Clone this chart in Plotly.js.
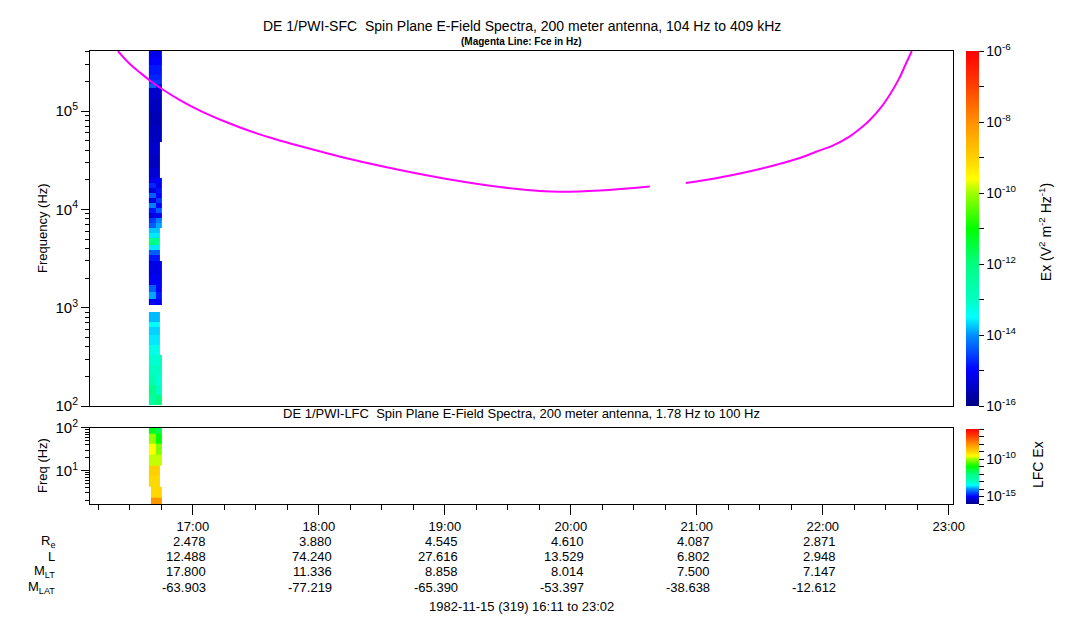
<!DOCTYPE html>
<html><head><meta charset="utf-8">
<script src="https://cdn.plot.ly/plotly-3.0.1.min.js"></script>
<style>html,body{margin:0;padding:0;background:#fff;}#chart{width:1083px;height:620px;}</style>
</head><body><div id="chart"></div>
<script>
const DAY = '1982-11-15 ';

// ---- SFC spectrogram (top panel) ----
const sfcTimeEdges = ['16:39:03', '16:42:14', '16:44:17', '16:45:23'];
// frequency bin edges, top -> bottom (Hz)
const sfcFreqEdgesHz = [409000, 344000, 294000, 233000, 207000, 187000, 170500, 135000, 98700, 72200,
  48900, 35800, 26200, 20700, 18400, 16400, 14600, 13000, 11500, 10300,
  9120, 8110, 7210, 6420, 5710, 5160, 4700, 4350, 3860, 3440,
  2990, 2150, 1700, 1460, 1240, 1065, 912, 721, 641, 528,
  418, 330, 261, 207, 164, 129, 102];
// log10(Ex) per time column, rows top -> bottom
const sfcLogExA = [-15.15, -15.0, -14.85, -14.75, -14.6, -14.35, -15.4, -15.5, -15.6, -15.5,
  -15.4, -15.5, -15.35, -15.2, -14.75, -15.3, -14.35, -15.2, -14.1, -14.85,
  -15.3, -14.6, -14.35, -13.75, -13.6, -12.2, -11.9, -13.6, -14.35, -14.85,
  -15.2, -15.1, -14.35, -13.9, -15.05, null, -13.8, -13.5, -13.7, -13.6,
  -13.3, -13.15, -13.0, -12.8, -12.2, -12.5];
const sfcLogExB = [-15.15, -15.0, -14.85, -14.75, -14.6, -14.85, -15.4, -15.5, -15.6, -15.5,
  -15.4, -15.5, -15.35, -15.0, -15.2, -14.9, -15.0, -14.6, -15.0, -14.35,
  -15.05, -14.1, -13.9, -13.75, -13.6, -12.2, -12.5, -13.6, -14.35, -14.85,
  -15.2, -15.1, -15.0, -14.85, -15.05, null, -13.8, -13.5, -13.7, -13.6,
  -13.3, -13.15, -13.0, -13.15, -13.0, -12.0];
const sfcLogExC = [-15.15, -15.0, -14.85, -14.75, -14.7, -15.3, -15.4, -15.5, -15.6, -15.5,
  null, null, null, -15.0, -15.05, -14.85, -15.0, -14.6, -15.0, -14.35,
  -15.05, -14.1, -13.9, null, null, null, null, null, null, null,
  -15.2, -15.1, -15.0, -14.85, -15.05, null, null, null, null, null,
  null, -12.8, -13.0, -13.15, -13.0, -12.0];

// ---- LFC spectrogram (bottom panel) ----
const lfcTimeEdges = ['16:39:03', '16:39:59', '16:42:14', '16:44:17', '16:45:23'];
const lfcFreqHz = [1.78, 3.16, 5.62, 10, 17.8, 31.6, 56.2, 100];
const lfcLogExA = [null, null, -9.1, -9.0, -9.85, -9.6, -10.1, -11.2];
const lfcLogExB = [-8.1, -9.1, -9.1, -9.0, -9.85, -9.6, -10.1, -11.2];
const lfcLogExC = [-8.1, -9.1, -9.1, -9.0, -9.85, -10.2, -11.0, -11.6];
const lfcLogExD = [-8.1, -9.1, null, null, -9.85, -10.2, -11.0, -11.6];

// ---- Electron cyclotron frequency (magenta line) ----
const fceTimes = ['16:24:17', '16:30:00', '16:34:46', '16:39:31', '16:45:14', '16:53:49', '17:03:20',
  '17:15:14', '17:27:08', '17:39:03', '17:50:57', '18:14:46', '18:38:34', '19:02:23', '19:26:11',
  '19:45:14', '19:54:46', '20:13:49', '20:37:37', '20:46:00', '20:54:46', '21:10:57', '21:30:00',
  '21:49:00', '21:57:08', '22:05:14', '22:12:52', '22:18:34', '22:22:23', '22:28:06', '22:31:54',
  '22:36:12', '22:39:30', '22:42:24'];
const fceHz = [408700, 301400, 247000, 204800, 167800, 129700, 101400,
  78390, 62720, 52030, 44160, 32560, 25170, 20150, 16900,
  15390, 15110, 15570, 17100, null, 18560, 21110, 25760,
  33340, 38820, 45100, 55410, 68400, 81210, 111900, 146900,
  211600, 301400, 408700];

// ---- Orbit table ----
const hourTicks = ['17:00', '18:00', '19:00', '20:00', '21:00', '22:00', '23:00'];
const reValues = ['2.478', '3.880', '4.545', '4.610', '4.087', '2.871'];
const lValues = ['12.488', '74.240', '27.616', '13.529', '6.802', '2.948'];
const mltValues = ['17.800', '11.336', '8.858', '8.014', '7.500', '7.147'];
const mlatValues = ['-63.903', '-77.219', '-65.390', '-53.397', '-38.638', '-12.612'];
const rowLabels = ['R<sub>e</sub>', 'L', 'M<sub>LT</sub>', 'M<sub>LAT</sub>'];

const FONT = 'Liberation Sans, Arial, Helvetica, sans-serif';
const exColorscale = [[0, 'rgb(0,0,131)'], [0.1, 'rgb(0,0,255)'], [0.2, 'rgb(0,144,255)'], [0.25, 'rgb(0,255,255)'],
  [0.3, 'rgb(0,255,192)'], [0.4, 'rgb(0,255,128)'], [0.5, 'rgb(0,255,0)'], [0.6, 'rgb(160,255,0)'],
  [0.64, 'rgb(255,255,0)'], [0.7, 'rgb(255,208,0)'], [0.8, 'rgb(255,144,0)'], [0.9, 'rgb(255,64,0)'], [1, 'rgb(255,0,0)']];

const sup = n => '10<sup>' + n + '</sup>';
const t = s => DAY + s;
const black = (size) => ({family: FONT, size: size, color: '#000'});

// build SFC z (ascending frequency)
const sfcYEdges = sfcFreqEdgesHz.map(Math.log10).reverse();
const sfcZ = sfcLogExA.map((v, i) => [v, sfcLogExB[i], sfcLogExC[i]]).reverse();
const lfcZ = lfcFreqHz.map((f, i) => [lfcLogExA[i], lfcLogExB[i], lfcLogExC[i], lfcLogExD[i]]);

const cbTicks = [];
for (let e = -16; e <= -6; e++) cbTicks.push(e);

const cbCommon = {x: 1.0151, xanchor: 'left', xpad: 0, ypad: 0, lenmode: 'fraction', thickness: 13, outlinewidth: 0,
  tickmode: 'array', tickvals: cbTicks, ticks: 'outside', ticklen: 5, tickcolor: '#000', tickfont: black(14),
  title: {text: ''}};

const sfcTrace = {
  type: 'heatmap', xaxis: 'x', yaxis: 'y',
  x: sfcTimeEdges.map(t), y: sfcYEdges, z: sfcZ,
  zmin: -16, zmax: -6, colorscale: exColorscale, zsmooth: false, connectgaps: false, hoverinfo: 'skip',
  colorbar: Object.assign({}, cbCommon, {y: 1, yanchor: 'top', len: 0.7837,
    ticktext: cbTicks.map(e => (e % 2 === 0 ? sup(e) : ''))})
};
const lfcTrace = {
  type: 'heatmap', xaxis: 'x2', yaxis: 'y2',
  x: lfcTimeEdges.map(t), y: lfcFreqHz.map(Math.log10), z: lfcZ,
  zmin: -16, zmax: -6, colorscale: exColorscale, zsmooth: false, connectgaps: false, hoverinfo: 'skip',
  colorbar: Object.assign({}, cbCommon, {y: 0, yanchor: 'bottom', len: 0.1656,
    ticktext: cbTicks.map(e => (e === -10 || e === -15 ? sup(e) : ''))})
};
const fceTrace = {
  type: 'scatter', mode: 'lines', xaxis: 'x', yaxis: 'y',
  x: fceTimes.map(t), y: fceHz.map(v => (v === null ? null : Math.log10(v))),
  line: {color: '#ff00ff', width: 2, shape: 'spline', smoothing: 1},
  connectgaps: false, hoverinfo: 'skip', showlegend: false
};

const topMax = Math.log10(409000);
const topMinor = [];
for (let d = 2; d <= 5; d++) for (let m = 2; m <= 9; m++) {
  const v = Math.log10(m * Math.pow(10, d));
  if (v <= topMax) topMinor.push(v);
}
const botMinor = [];
for (let d = 0; d <= 1; d++) for (let m = 2; m <= 9; m++) {
  const v = Math.log10(m * Math.pow(10, d));
  if (v >= 0.2) botMinor.push(v);
}

const xRange = [t('16:11:00'), t('23:02:00')];
const axisCommon = {showline: true, linecolor: '#000', linewidth: 1, mirror: true, showgrid: false, zeroline: false};

const annotations = [
  {text: 'DE 1/PWI-SFC\u00a0 Spin Plane E-Field Spectra, 200 meter antenna, 104 Hz to 409 kHz', x: 0.5, y: 1.0552,
    xref: 'paper', yref: 'paper', showarrow: false, yanchor: 'middle', font: black(14)},
  {text: '<b>(Magenta Line: Fce in Hz)</b>', x: 0.5, y: 1.0199, xref: 'paper', yref: 'paper', showarrow: false,
    yanchor: 'middle', font: black(10)},
  {text: 'DE 1/PWI-LFC\u00a0 Spin Plane E-Field Spectra, 200 meter antenna, 1.78 Hz to 100 Hz', x: 0.5, y: 0.1987,
    xref: 'paper', yref: 'paper', showarrow: false, yanchor: 'middle', font: black(13)},
  {text: 'Frequency (Hz)', x: -0.0545, y: 0.6093, xref: 'paper', yref: 'paper', showarrow: false, textangle: -90,
    xanchor: 'center', yanchor: 'middle', font: black(13)},
  {text: 'Freq (Hz)', x: -0.0545, y: 0.0861, xref: 'paper', yref: 'paper', showarrow: false, textangle: -90,
    xanchor: 'center', yanchor: 'middle', font: black(13)},
  {text: 'Ex (V<sup>2</sup> m<sup>-2</sup> Hz<sup>-1</sup>)', x: 1.1066, y: 0.6, xref: 'paper', yref: 'paper',
    showarrow: false, textangle: -90, xanchor: 'center', yanchor: 'middle', font: black(14)},
  {text: 'LFC Ex', x: 1.0985, y: 0.086, xref: 'paper', yref: 'paper',
    showarrow: false, textangle: -90, xanchor: 'center', yanchor: 'middle', font: black(14)},
  {text: '1982-11-15 (319) 16:11 to 23:02', x: 0.5, y: -0.2252, xref: 'paper', yref: 'paper', showarrow: false,
    yanchor: 'middle', font: black(13)}
];
const rowY = [-0.0817, -0.1148, -0.1501, -0.1854];
const rows = [reValues, lValues, mltValues, mlatValues];
rows.forEach((vals, r) => {
  annotations.push({text: rowLabels[r], x: -0.0382, y: rowY[r], xref: 'paper', yref: 'paper', showarrow: false,
    xanchor: 'right', yanchor: 'middle', font: black(13)});
  vals.forEach((v, c) => {
    annotations.push({text: v, x: t(hourTicks[c]), y: rowY[r], xref: 'x2', yref: 'paper', showarrow: false,
      xanchor: 'right', xshift: 15, yanchor: 'middle', font: black(13)});
  });
});

const layout = {
  width: 1083, height: 620,
  margin: {l: 90, r: 130, t: 51, b: 116, pad: 0},
  paper_bgcolor: '#fff', plot_bgcolor: '#fff',
  font: black(13),
  showlegend: false,
  xaxis: Object.assign({}, axisCommon, {type: 'date', domain: [0, 1], anchor: 'y', range: xRange,
    showticklabels: false, ticks: '', matches: 'x2'}),
  yaxis: Object.assign({}, axisCommon, {domain: [0.2163, 1], anchor: 'x', range: [2, topMax],
    tickmode: 'array', tickvals: [2, 3, 4, 5], ticktext: [sup(2), sup(3), sup(4), sup(5)],
    ticks: 'outside', ticklen: 8, tickcolor: '#000', tickfont: black(15),
    minor: {tickmode: 'array', tickvals: topMinor, ticks: 'outside', ticklen: 4, tickcolor: '#000', showgrid: false}}),
  xaxis2: Object.assign({}, axisCommon, {type: 'date', domain: [0, 1], anchor: 'y2', range: xRange,
    tickmode: 'array', tickvals: hourTicks.map(t), ticktext: hourTicks,
    ticks: 'outside', ticklen: 10, tickcolor: '#000', tickfont: black(13),
    minor: {dtick: 15 * 60 * 1000, tick0: t('16:00:00'), ticks: 'outside', ticklen: 5, tickcolor: '#000', showgrid: false}}),
  yaxis2: Object.assign({}, axisCommon, {domain: [0, 0.1678], anchor: 'x2', range: [0.215, 2],
    tickmode: 'array', tickvals: [1, 2], ticktext: [sup(1), sup(2)],
    ticks: 'outside', ticklen: 8, tickcolor: '#000', tickfont: black(15),
    minor: {tickmode: 'array', tickvals: botMinor, ticks: 'outside', ticklen: 4, tickcolor: '#000', showgrid: false}}),
  annotations: annotations
};

Plotly.newPlot('chart', [sfcTrace, lfcTrace, fceTrace], layout, {staticPlot: true, displayModeBar: false});
</script></body></html>
